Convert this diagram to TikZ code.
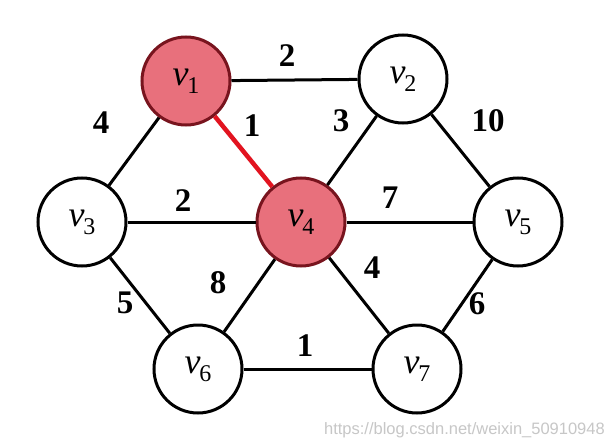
\documentclass[tikz,border=0pt]{standalone}
\usepackage{fontspec}
\setmainfont{Liberation Serif}
\newfontfamily\wmfont{Liberation Sans}
\definecolor{hlfill}{RGB}{232,112,124}
\definecolor{hldraw}{RGB}{120,20,30}
\definecolor{hledge}{RGB}{226,20,32}
\newcommand\vlab[1]{{\fontsize{36}{36}\selectfont\itshape v}\kern-1pt\raisebox{-8pt}{\fontsize{24}{24}\selectfont #1}}
\begin{document}
\begin{tikzpicture}[x=1pt,y=-1pt,
  vert/.style={circle,draw=black,line width=3pt,fill=white,minimum size=88pt,inner sep=0pt},
  hl/.style={vert,fill=hlfill,draw=hldraw},
  edge/.style={line width=3pt,black},
  redge/.style={line width=4.5pt,hledge},
  wt/.style={font=\fontsize{33}{33}\selectfont\bfseries,inner sep=0pt}]
\useasboundingbox (0,0) rectangle (614,447);
\fill[white] (0,0) rectangle (614,447);
\node[hl]   (v1) at (186,81)  {\vlab{1}};
\node[vert] (v2) at (403,79)  {\vlab{2}};
\node[vert] (v3) at (82,222)  {\vlab{3}};
\node[hl]   (v4) at (301,222) {\vlab{4}};
\node[vert] (v5) at (518,222) {\vlab{5}};
\node[vert] (v6) at (198,369) {\vlab{6}};
\node[vert] (v7) at (417,369) {\vlab{7}};
\draw[edge] (v1) -- (v2);
\draw[edge] (v1) -- (v3);
\draw[redge] (v1) -- (v4);
\draw[edge] (v2) -- (v4);
\draw[edge] (v2) -- (v5);
\draw[edge] (v3) -- (v4);
\draw[edge] (v4) -- (v5);
\draw[edge] (v3) -- (v6);
\draw[edge] (v4) -- (v6);
\draw[edge] (v4) -- (v7);
\draw[edge] (v5) -- (v7);
\draw[edge] (v6) -- (v7);
\node[wt] (w12) at (287,56)  {2};
\node[wt] (w13) at (101,123) {4};
\node[wt] (w14) at (252,126) {1};
\node[wt] (w24) at (341,121) {3};
\node[wt] (w25) at (488,121) {10};
\node[wt] (w34) at (183,201) {2};
\node[wt] (w45) at (390,198) {7};
\node[wt] (w46) at (218,283) {8};
\node[wt] (w47) at (372,268) {4};
\node[wt] (w36) at (125,303) {5};
\node[wt] (w57) at (477,304) {6};
\node[wt] (w67) at (305,346) {1};
\node[font=\wmfont\fontsize{16.5}{16.5}\selectfont,text=black!22,anchor=east,inner sep=0pt] (wm) at (605,430) {https://blog.csdn.net/weixin\_50910948};
\end{tikzpicture}
\end{document}
